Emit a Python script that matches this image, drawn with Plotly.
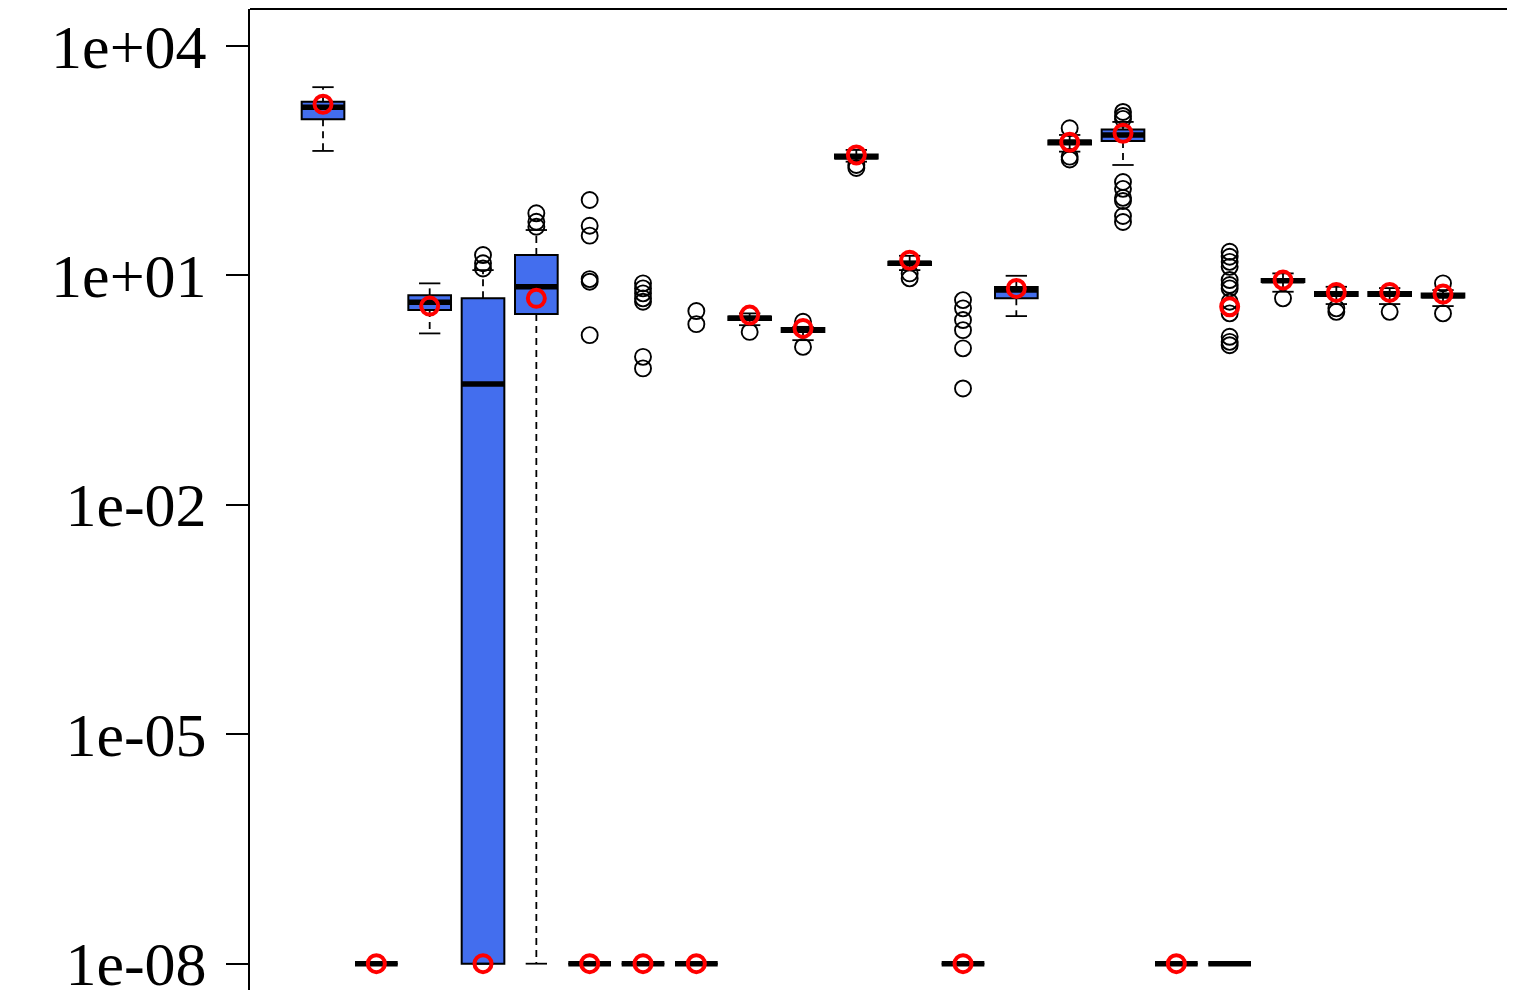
import plotly.graph_objects as go

# ---- data ----
positions = list(range(1, 23))
q1 = [1099, 1e-8, 3.51, 1e-8, 3.11, 1e-8, 1e-8, 1e-8, 2.60, 1.81, 337, 13.6,
      1e-8, 5.03, 514, 571, 1e-8, 1e-8, 8.17, 5.36, 5.36, 5.12]
medians = [1578, 1e-8, 4.43, 0.378, 7.08, 1e-8, 1e-8, 1e-8, 2.74, 1.92, 356, 14.4,
           1e-8, 6.41, 550, 684, 1e-8, 1e-8, 8.51, 5.69, 5.69, 5.40]
q3 = [1866, 1e-8, 5.47, 5.0, 18.4, 1e-8, 1e-8, 1e-8, 2.89, 2.04, 380, 15.1,
      1e-8, 7.02, 580, 808, 1e-8, 1e-8, 8.93, 6.04, 6.04, 5.77]
lower_whisker = [423, 1e-8, 1.74, 1e-8, 1e-8, 1e-8, 1e-8, 1e-8, 2.23, 1.42, 306, 11.7,
                 1e-8, 2.93, 414, 277, 1e-8, 1e-8, 6.10, 4.21, 4.21, 3.96]
upper_whisker = [2884, 1e-8, 7.85, 11.7, 39.1, 1e-8, 1e-8, 1e-8, 3.18, 2.12, 436, 18.0,
                 1e-8, 9.86, 684, 1013, 1e-8, 1e-8, 10.6, 7.08, 6.81, 6.41]
means = [1726, 1e-8, 3.96, 1e-8, 5.0, 1e-8, 1e-8, 1e-8, 3.02, 2.02, 375, 15.8,
         1e-8, 6.75, 550, 721, 1e-8, 3.88, 8.67, 5.98, 5.98, 5.69]
outliers = [
    [], [], [],
    [18.4, 14.4, 12.3],
    [64.7, 50.2, 43.2],
    [96.6, 44.5, 33.0, 8.93, 8.24, 1.65],
    [7.85, 6.75, 5.81, 5.0, 4.51, 0.859, 0.607],
    [3.41, 2.30],
    [1.82],
    [2.47, 1.16],
    [277, 253],
    [10.6, 9.12],
    [4.74, 3.70, 2.60, 1.92, 1.11, 0.332],
    [],
    [838, 356, 327],
    [1368, 1213, 1109, 166, 135, 103, 93.7, 59.6, 49.8],
    [],
    [20.3, 17.5, 15.0, 12.9, 8.67, 7.46, 6.75, 4.51, 3.88, 3.18, 1.57, 1.35, 1.22],
    [5.0],
    [3.70, 3.33],
    [3.33],
    [7.85, 3.18],
]
tick_values = [1e4, 1e1, 1e-2, 1e-5, 1e-8]
tick_labels = ["1e+04", "1e+01", "1e-02", "1e-05", "1e-08"]

BOX_FILL = "#436EEE"
BOX_W = 0.8
CAP_W = 0.4

fig = go.Figure()

# dashed whiskers
wx, wy = [], []
for p, a, b, lo, hi in zip(positions, q1, q3, lower_whisker, upper_whisker):
    wx += [p, p, None, p, p, None]
    wy += [b, hi, None, a, lo, None]
fig.add_trace(go.Scatter(x=wx, y=wy, mode="lines",
                         line=dict(color="black", width=1.8, dash="7px,5px"),
                         hoverinfo="skip", showlegend=False))

# whisker caps
cx, cy = [], []
for p, lo, hi in zip(positions, lower_whisker, upper_whisker):
    cx += [p - CAP_W / 2, p + CAP_W / 2, None, p - CAP_W / 2, p + CAP_W / 2, None]
    cy += [hi, hi, None, lo, lo, None]
fig.add_trace(go.Scatter(x=cx, y=cy, mode="lines",
                         line=dict(color="black", width=1.8),
                         hoverinfo="skip", showlegend=False))

# boxes
fig.add_trace(go.Box(x=positions, q1=q1, median=medians, q3=q3,
                     lowerfence=q1, upperfence=q3, width=BOX_W,
                     whiskerwidth=0, fillcolor=BOX_FILL,
                     line=dict(color="black", width=2),
                     boxpoints=False, showlegend=False, hoverinfo="skip"))

# thick medians
mx, my = [], []
for p, m in zip(positions, medians):
    mx += [p - BOX_W / 2, p + BOX_W / 2, None]
    my += [m, m, None]
fig.add_trace(go.Scatter(x=mx, y=my, mode="lines",
                         line=dict(color="black", width=5.5),
                         hoverinfo="skip", showlegend=False))

# outliers
ox, oy = [], []
for p, vals in zip(positions, outliers):
    for v in vals:
        ox.append(p)
        oy.append(v)
fig.add_trace(go.Scatter(x=ox, y=oy, mode="markers",
                         marker=dict(symbol="circle-open", size=16, color="black",
                                     line=dict(width=1.9)),
                         hoverinfo="skip", showlegend=False))

# means (red)
fig.add_trace(go.Scatter(x=positions, y=means, mode="markers",
                         marker=dict(symbol="circle-open", size=17, color="red",
                                     line=dict(width=4)),
                         hoverinfo="skip", showlegend=False))

fig.update_layout(
    width=1499, height=982,
    margin=dict(l=242, r=0, t=1, b=0, pad=0),
    paper_bgcolor="white", plot_bgcolor="white",
    showlegend=False,
    xaxis=dict(type="linear", range=[-0.369, 23.20], showgrid=False, zeroline=False,
               showticklabels=False, ticks="", showline=False, automargin=False),
    yaxis=dict(type="log", range=[-8.344, 4.482], showgrid=False, zeroline=False,
               tickmode="array", tickvals=tick_values, ticktext=tick_labels,
               ticks="outside", ticklen=22, tickwidth=2, tickcolor="black",
               showline=True, linewidth=2, linecolor="black",
               tickfont=dict(family="Liberation Serif", size=62, color="black"),
               ticklabelstandoff=7, ticklabeloverflow="allow", automargin=False),
    shapes=[dict(type="line", xref="paper", yref="paper", x0=0, x1=1, y0=1, y1=1,
                 line=dict(color="black", width=2))],
)

fig.write_html("out.html")
